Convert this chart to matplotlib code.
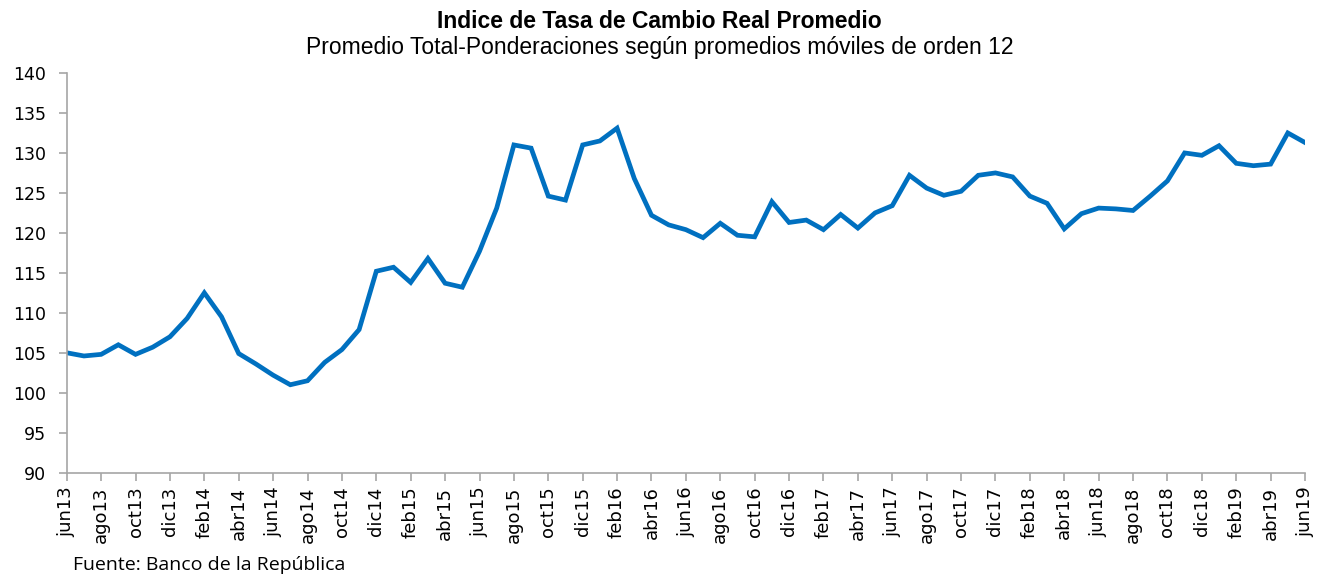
import matplotlib
matplotlib.use("Agg")
import matplotlib.pyplot as plt
from matplotlib import font_manager

# Real exchange rate index, monthly, jun13 .. jun19
itcr = [105.0, 104.6, 104.8, 106.0, 104.8, 105.7, 107.0, 109.3, 112.5, 109.5,
        104.9, 103.6, 102.2, 101.0, 101.5, 103.8, 105.4, 107.9, 115.2, 115.7,
        113.8, 116.8, 113.7, 113.2, 117.7, 123.1, 131.0, 130.6, 124.6, 124.1,
        131.0, 131.5, 133.1, 126.8, 122.2, 121.0, 120.4, 119.4, 121.2, 119.7,
        119.5, 123.9, 121.3, 121.6, 120.4, 122.3, 120.6, 122.5, 123.4, 127.2,
        125.6, 124.7, 125.2, 127.2, 127.5, 127.0, 124.6, 123.7, 120.5, 122.4,
        123.1, 123.0, 122.8, 124.6, 126.5, 130.0, 129.7, 130.9, 128.7, 128.4,
        128.6, 132.5, 131.3]

meses = ["jun", "jul", "ago", "sep", "oct", "nov", "dic",
         "ene", "feb", "mar", "abr", "may"]
etiquetas = []
for k in range(len(itcr)):
    m = k % 12
    yy = 13 + (k + 5) // 12
    etiquetas.append(meses[m] + str(yy))

y_ticks = list(range(90, 141, 5))

names = {f.name for f in font_manager.fontManager.ttflist}
title_font = "Liberation Sans Narrow" if "Liberation Sans Narrow" in names else "Liberation Sans"

fig = plt.figure(figsize=(13.19, 5.77), dpi=100)
ax = fig.add_axes([0.0506, 0.1808, 0.9388, 0.6927])

x = list(range(len(itcr)))
ax.plot(x, itcr, color="#0070C0", lw=3.4, solid_joinstyle="miter")

ax.set_xlim(0, len(itcr) - 1)
ax.set_ylim(90, 140)
ax.set_yticks(y_ticks)
ax.set_yticklabels([str(v) for v in y_ticks], fontsize=12.5, family="DejaVu Sans")
ax.set_xticks(x[::2])
ax.set_xticklabels(etiquetas[::2], rotation=90, fontsize=13, family="DejaVu Sans")

for s in ["top", "right"]:
    ax.spines[s].set_visible(False)
for s in ["left", "bottom"]:
    ax.spines[s].set_color("#a6a6a6")
    ax.spines[s].set_linewidth(1.2)
ax.tick_params(axis="both", direction="out", length=6, color="#a6a6a6", width=1.2)
ax.tick_params(axis="y", pad=9)
ax.tick_params(axis="x", pad=4)

fig.text(0.5, 0.962, "Indice de Tasa de Cambio Real Promedio", ha="center", va="center",
         fontsize=16.5, fontweight="bold", family=title_font)
fig.text(0.5, 0.918, "Promedio Total-Ponderaciones según promedios móviles de orden 12",
         ha="center", va="center", fontsize=16.5, family=title_font)
fig.text(0.055, 0.005, "Fuente: Banco de la República", ha="left", va="bottom",
         fontsize=14, family="Open Sans")

fig.savefig("out.png", dpi=100)
